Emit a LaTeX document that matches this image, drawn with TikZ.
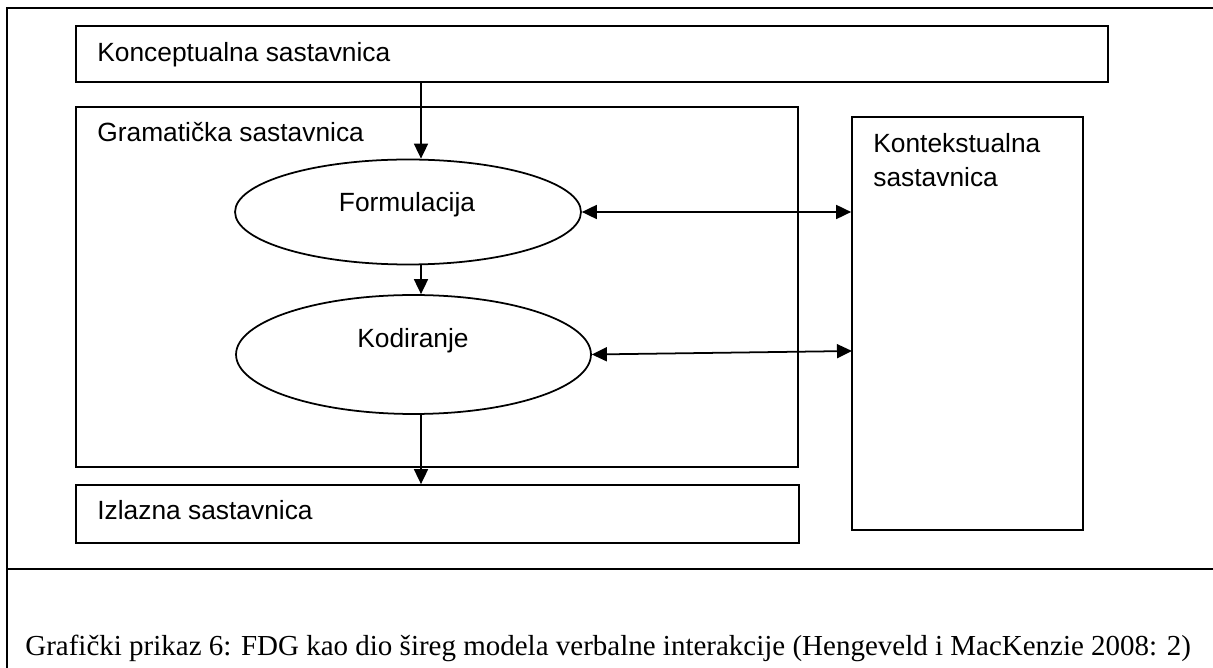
\documentclass[tikz,border=0pt]{standalone}
\usepackage{fontspec}
\setmainfont{Liberation Serif}
\setsansfont{Liberation Sans}
\usetikzlibrary{arrows.meta,shapes.geometric}

\begin{document}
\begin{tikzpicture}[x=0.02cm, y=0.02cm]
\tikzstyle{every node}+=[inner sep=0pt]
\tikzstyle{box}=[draw=black, line width=1pt, rectangle]
\tikzstyle{oval}=[draw=black, line width=1pt, ellipse]
\tikzstyle{lbl}=[font=\sffamily\fontsize{15}{18}\selectfont, anchor=base west]
\tikzstyle{arr}=[line width=1pt, -{Triangle[length=0.3cm,width=0.28cm]}]
\tikzstyle{arr2}=[line width=1pt, {Triangle[length=0.3cm,width=0.28cm]}-{Triangle[length=0.3cm,width=0.28cm]}]
\useasboundingbox (0,0) rectangle (1213,-668);
% frame of the figure
\draw [black, line width=1.6pt] (1213,-8) -- (7,-8) -- (7,-668);
\draw [black, line width=1.6pt] (7,-569) -- (1213,-569);
% components
\node [box, minimum width=20.64cm, minimum height=1.12cm] (konc) at (592,-54) {};
\node [lbl] (konctxt) at (97,-62) {Konceptualna sastavnica};
\node [box, minimum width=14.44cm, minimum height=7.2cm] (gram) at (437,-287) {};
\node [lbl] (gramtxt) at (97,-142) {Gramati\v{c}ka sastavnica};
\node [box, minimum width=14.46cm, minimum height=1.16cm] (izl) at (437.5,-514) {};
\node [lbl] (izltxt) at (97,-520) {Izlazna sastavnica};
\node [box, minimum width=4.62cm, minimum height=8.26cm] (kont) at (967.5,-323.5) {};
\node [lbl] (konttxt1) at (873,-153) {Kontekstualna};
\node [lbl] (konttxt2) at (873,-187) {sastavnica};
% levels inside the grammar
\node [oval, minimum width=6.92cm, minimum height=2.1cm] (form) at (408,-212) {};
\node [lbl, anchor=base] (formtxt) at (407,-212) {Formulacija};
\node [oval, minimum width=7.1cm, minimum height=2.38cm] (kod) at (413.5,-354.5) {};
\node [lbl, anchor=base] (kodtxt) at (413,-348) {Kodiranje};
% arrows
\coordinate (axis) at (421,0);
\coordinate (kodin) at (852,-351);
\draw [arr] (konc.south -| axis) -- (form.north -| axis);
\draw [arr] (form.south -| axis) -- (kod.north -| axis);
\draw [arr] (kod.south -| axis) -- (izl.north -| axis);
\draw [arr2] (form.east) -- (form.east -| kont.west);
\draw [arr2] (kod.east) -- (kodin);
% caption
\node [anchor=base west, font=\fontsize{16.5}{20}\selectfont] (capt) at (25,-655) {Grafi\v{c}ki prikaz 6: FDG kao dio \v{s}ireg modela verbalne interakcije (Hengeveld i MacKenzie 2008: 2)};
\end{tikzpicture}
\end{document}
